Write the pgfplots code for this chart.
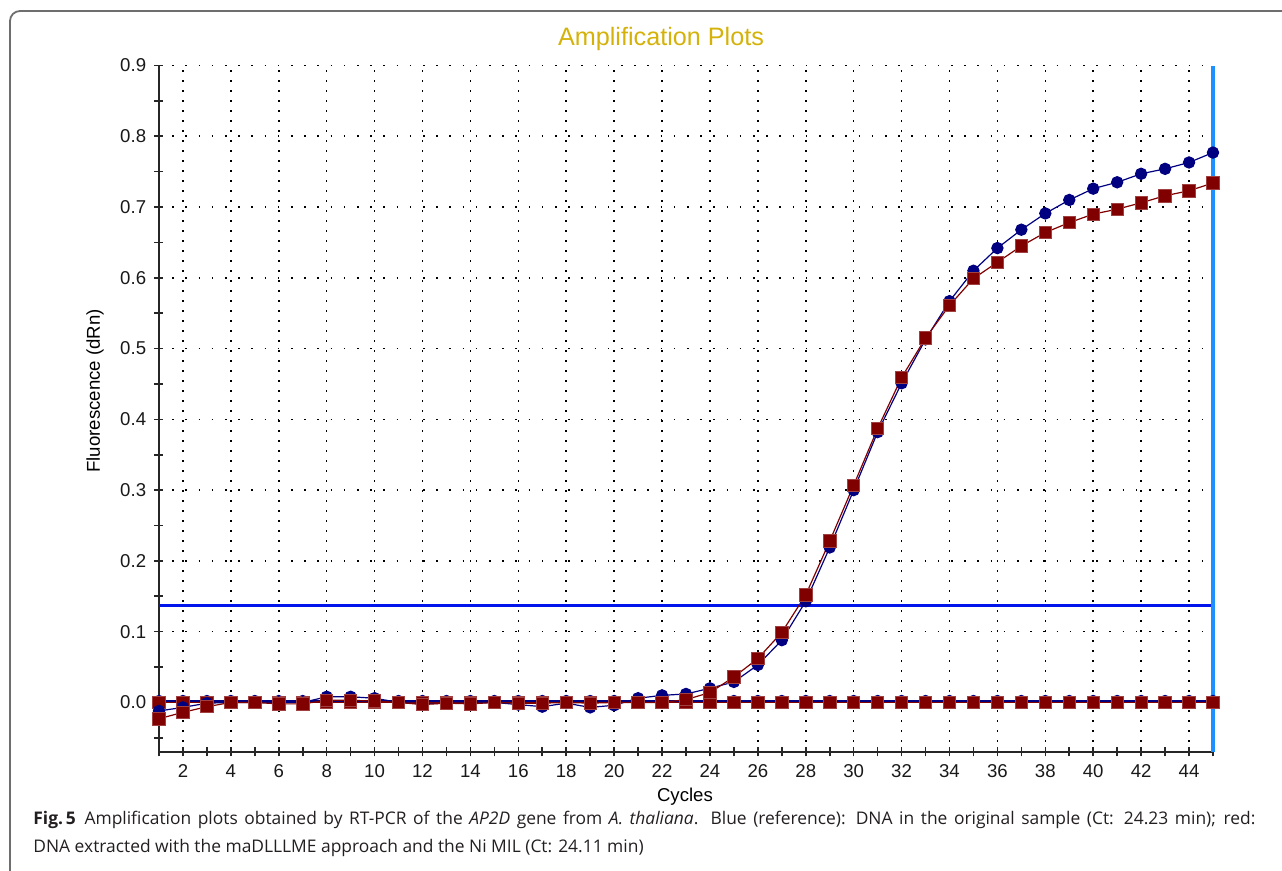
\documentclass[border=0pt]{standalone}
\usepackage{fontspec}
\setmainfont{Liberation Sans}
\newfontfamily\capfont{Open Sans}
\usepackage{pgfplots}
\pgfplotsset{compat=1.18}
\definecolor{titlegold}{RGB}{212,178,10}
\definecolor{navyc}{RGB}{0,0,128}
\definecolor{maroonc}{RGB}{128,0,0}
\definecolor{thrblue}{RGB}{0,20,235}
\definecolor{vblue}{RGB}{30,144,255}
\definecolor{boxgray}{RGB}{110,110,110}
\definecolor{captext}{RGB}{35,31,32}
\begin{document}
\begin{tikzpicture}
\path[use as bounding box] (-79.5pt,-59.5pt) rectangle (561.5pt,376pt);
\draw[boxgray, line width=0.9pt, rounded corners=5pt] (-74.5pt,-70pt) -- (-74.5pt,370.5pt) -- (570pt,370.5pt);
\begin{axis}[
  at={(0,0)}, anchor=south west,
  scale only axis, width=527pt, height=343.25pt,
  xmin=1, xmax=45, ymin=-0.07, ymax=0.9,
  clip=false,
  axis lines*=left,
  axis line style={-, line width=1pt, black!85},
  tick align=center,
  major tick length=4.5pt, minor tick length=4.5pt,
  every tick/.style={black!85, line width=0.8pt},
  xtick={2,4,...,44},
  minor xtick={1,3,...,45},
  ytick={0,0.1,0.2,0.3,0.4,0.5,0.6,0.7,0.8,0.9},
  minor ytick={-0.05,0.05,0.15,0.25,0.35,0.45,0.55,0.65,0.75,0.85},
  scaled y ticks=false,
  /pgf/number format/assume math mode=true,
  yticklabel={\pgfmathprintnumber[fixed,fixed zerofill,precision=1]{\tick}},
  tick label style={font=\fontsize{9.3}{10}\selectfont, black!90},
  xticklabel style={anchor=north, inner sep=0pt, yshift=-4pt},
  yticklabel style={anchor=east, inner sep=0pt, xshift=-4pt},
  xmajorgrids, ymajorgrids,
  major x grid style={black, line width=0.8pt, dash pattern=on 0.8pt off 4.2pt},
  major y grid style={black, line width=0.8pt, dash pattern=on 0.8pt off 5.8pt},
  xlabel={Cycles},
  ylabel={Fluorescence (dRn)},
  xlabel style={at={(axis description cs:0.499,-0.0656)}, anchor=center, font=\fontsize{9.3}{10}\selectfont},
  ylabel style={at={(axis description cs:-0.0607,0.526)}, anchor=center, rotate=0, font=\fontsize{9.3}{10}\selectfont},
]
% threshold
\addplot[thrblue, line width=1.4pt] coordinates {(1,0.137) (45,0.137)};
% flat controls
\addplot[navyc, line width=0.6pt, mark=*, mark size=2.8pt, mark options={fill=navyc, draw=navyc}] table {
x y
1 0.002
2 0.002
3 0.002
4 0.002
5 0.002
6 0.002
7 0.002
8 0.002
9 0.002
10 0.002
11 0.002
12 0.002
13 0.002
14 0.002
15 0.002
16 0.002
17 0.002
18 0.002
19 0.002
20 0.002
21 0.002
22 0.002
23 0.002
24 0.002
25 0.002
26 0.002
27 0.002
28 0.002
29 0.002
30 0.002
31 0.002
32 0.002
33 0.002
34 0.002
35 0.002
36 0.002
37 0.002
38 0.002
39 0.002
40 0.002
41 0.002
42 0.002
43 0.002
44 0.002
45 0.002
};
\addplot[maroonc, line width=0.6pt, mark=square*, mark size=3.1pt, mark options={fill=maroonc, draw=maroonc!75!white, line width=0.4pt}] table {
x y
1 0
2 0
3 0
4 0
5 0
6 0
7 0
8 0
9 0
10 0
11 0
12 0
13 0
14 0
15 0
16 0
17 0
18 0
19 0
20 0
21 0
22 0
23 0
24 0
25 0
26 0
27 0
28 0
29 0
30 0
31 0
32 0
33 0
34 0
35 0
36 0
37 0
38 0
39 0
40 0
41 0
42 0
43 0
44 0
45 0
};
% blue amplification (reference)
\addplot[navyc, line width=0.6pt, mark=*, mark size=2.8pt, mark options={fill=navyc, draw=navyc}] table {
x y
1 -0.012
2 -0.007
3 -0.001
4 0.0
5 0.0
6 0.0
7 0.0
8 0.008
9 0.008
10 0.006
11 0.0
12 -0.002
13 -0.001
14 -0.001
15 0.0
16 -0.003
17 -0.006
18 -0.001
19 -0.007
20 -0.004
21 0.006
22 0.010
23 0.012
24 0.020
25 0.029
26 0.053
27 0.088
28 0.143
29 0.219
30 0.300
31 0.382
32 0.451
33 0.513
34 0.567
35 0.610
36 0.642
37 0.668
38 0.691
39 0.710
40 0.726
41 0.735
42 0.747
43 0.754
44 0.763
45 0.777
};
% red amplification
\addplot[maroonc, line width=0.6pt, mark=square*, mark size=3.1pt, mark options={fill=maroonc, draw=maroonc!75!white, line width=0.4pt}] table {
x y
1 -0.023
2 -0.014
3 -0.006
4 0.0
5 0.0
6 -0.002
7 -0.002
8 0.003
9 0.003
10 0.002
11 0.0
12 -0.003
13 -0.001
14 -0.002
15 0.0
16 -0.001
17 -0.001
18 0.0
19 -0.001
20 0.0
21 0.0
22 0.0
23 0.004
24 0.014
25 0.036
26 0.062
27 0.099
28 0.152
29 0.228
30 0.307
31 0.387
32 0.459
33 0.515
34 0.561
35 0.599
36 0.622
37 0.645
38 0.664
39 0.678
40 0.690
41 0.697
42 0.706
43 0.716
44 0.723
45 0.734
};
% vertical cycle marker
\addplot[vblue, line width=1.6pt] coordinates {(45,-0.07) (45,0.9)};
\end{axis}
\node[anchor=base, text=titlegold, font=\fontsize{12.6}{14}\selectfont, inner sep=0pt] at (251pt,353pt) {Amplification Plots};
\node[anchor=base west, inner sep=0pt, text=captext, font=\capfont\fontsize{8.7}{10}\selectfont] at (-63pt,-36.5pt) {\makebox[611pt][s]{\textbf{Fig.\,5}\enspace Amplification plots obtained by RT-PCR of the \textit{AP2D} gene from \textit{A.~thaliana}. Blue (reference): DNA in the original sample (Ct: 24.23 min); red:}};
\node[anchor=base west, inner sep=0pt, text=captext, font=\capfont\fontsize{8.7}{10}\selectfont] at (-63pt,-50.5pt) {DNA extracted with the maDLLLME approach and the Ni MIL (Ct: 24.11 min)};
\end{tikzpicture}
\end{document}
